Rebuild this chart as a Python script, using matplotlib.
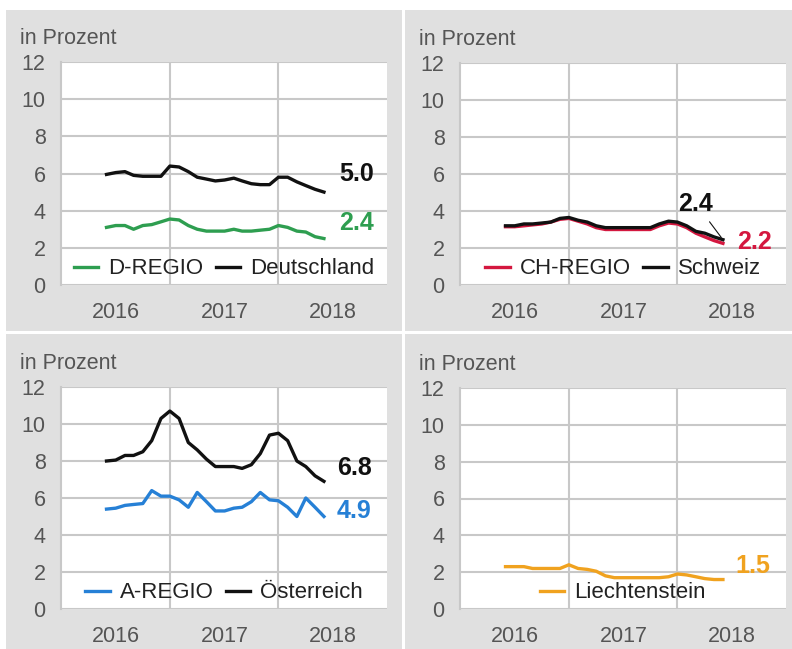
import numpy as np
import pandas as pd
import matplotlib
matplotlib.use("Agg")
import matplotlib.pyplot as plt
import matplotlib.dates as mdates
from matplotlib.patches import Rectangle

plt.rcParams['font.family'] = ['Liberation Sans', 'DejaVu Sans']

# monthly values, Dec 2015 .. Dec 2017 (in Prozent)
months = pd.date_range("2015-12-01", periods=25, freq="MS")
years = [2016, 2017, 2018]

d_regio = [3.1, 3.2, 3.2, 3.0, 3.2, 3.25, 3.4, 3.55, 3.5, 3.2, 3.0, 2.9, 2.9,
           2.9, 3.0, 2.9, 2.9, 2.95, 3.0, 3.2, 3.1, 2.9, 2.85, 2.6, 2.5]
deutschland = [5.95, 6.05, 6.1, 5.9, 5.85, 5.85, 5.85, 6.4, 6.35, 6.1, 5.8, 5.7, 5.6,
               5.65, 5.75, 5.6, 5.45, 5.4, 5.4, 5.8, 5.8, 5.55, 5.35, 5.15, 5.0]

ch_regio = [3.15, 3.15, 3.2, 3.25, 3.3, 3.4, 3.55, 3.6, 3.45, 3.3, 3.1, 3.0, 3.0,
            3.0, 3.0, 3.0, 3.0, 3.2, 3.35, 3.3, 3.1, 2.8, 2.6, 2.4, 2.25]
schweiz = [3.2, 3.2, 3.3, 3.3, 3.35, 3.4, 3.6, 3.65, 3.5, 3.4, 3.2, 3.1, 3.1,
           3.1, 3.1, 3.1, 3.1, 3.3, 3.45, 3.4, 3.2, 2.9, 2.8, 2.6, 2.45]

a_regio = [5.4, 5.45, 5.6, 5.65, 5.7, 6.4, 6.1, 6.1, 5.9, 5.5, 6.3, 5.8, 5.3,
           5.3, 5.45, 5.5, 5.8, 6.3, 5.9, 5.85, 5.5, 5.0, 6.0, 5.5, 5.0]
oesterreich = [8.0, 8.05, 8.3, 8.3, 8.5, 9.1, 10.3, 10.7, 10.3, 9.0, 8.6, 8.1, 7.7,
               7.7, 7.7, 7.6, 7.8, 8.4, 9.4, 9.5, 9.1, 8.0, 7.7, 7.2, 6.9]

liechtenstein = [2.3, 2.3, 2.3, 2.2, 2.2, 2.2, 2.2, 2.4, 2.2, 2.15, 2.05, 1.8, 1.7,
                 1.7, 1.7, 1.7, 1.7, 1.7, 1.75, 1.9, 1.85, 1.75, 1.65, 1.6, 1.6]

GREEN = "#2e9e50"
RED = "#d4173f"
BLUE = "#2680d6"
ORANGE = "#f0a21f"
BLACK = "#111111"
GRAY_BG = "#e0e0e0"
GRID = "#c8c8c8"
TXT = "#555555"

W, H = 792, 649
fig = plt.figure(figsize=(W / 100, H / 100), dpi=100)
fig.patch.set_facecolor("white")

# gray panel boxes (pixels: x0, y0_top, x1, y1_bottom)
boxes = [(6, 10, 402, 331), (405, 10, 792, 331), (6, 334, 402, 649), (405, 334, 792, 649)]
for x0, y0, x1, y1 in boxes:
    fig.add_artist(Rectangle((x0 / W, 1 - y1 / H), (x1 - x0) / W, (y1 - y0) / H,
                             transform=fig.transFigure, facecolor=GRAY_BG, edgecolor="none", zorder=0))

# plot areas in pixels (left, top, right, bottom)
areas = [(61, 62, 387, 285), (460, 63, 786, 285), (61, 387, 387, 609), (460, 388, 786, 609)]

x = mdates.date2num(months)


def make_ax(area):
    l, t, r, b = area
    ax = fig.add_axes([l / W, 1 - b / H, (r - l) / W, (b - t) / H])
    ax.set_facecolor("white")
    ax.set_ylim(0, 12)
    ax.set_yticks(range(0, 13, 2))
    ax.set_xlim(mdates.date2num(pd.Timestamp("2015-07-01")), mdates.date2num(pd.Timestamp("2018-07-01")))
    ax.set_xticks(mdates.date2num([pd.Timestamp(f"{y}-01-01") for y in years]))
    ax.set_xticklabels([str(y) for y in years])
    ax.set_xticks(mdates.date2num([pd.Timestamp("2016-07-01"), pd.Timestamp("2017-07-01")]), minor=True)
    ax.grid(True, axis="y", color=GRID, lw=1.5)
    ax.grid(True, axis="x", which="minor", color=GRID, lw=1.5)
    ax.grid(False, axis="x", which="major")
    ax.set_axisbelow(True)
    for s in ["top", "right", "bottom"]:
        ax.spines[s].set_visible(False)
    ax.spines["left"].set_color(GRID)
    ax.spines["left"].set_linewidth(1.5)
    ax.tick_params(axis="both", which="both", length=0, labelsize=15.5, labelcolor=TXT)
    ax.tick_params(axis="y", pad=11)
    ax.tick_params(axis="x", pad=12)
    ax.annotate("in Prozent", xy=(0, 1), xycoords="axes fraction", xytext=(-41, 18),
                textcoords="offset pixels", fontsize=15.5, color=TXT, va="baseline", ha="left")
    return ax


def end_label(ax, xv, yv, txt, color, dx, dy):
    ax.annotate(txt, xy=(xv, yv), xytext=(dx, dy), textcoords="offset pixels",
                fontsize=18, fontweight="bold", color=color, ha="left", va="center")


def legend(ax):
    ax.legend(loc="lower center", ncol=2, frameon=False, fontsize=16, handlelength=1.1,
              handletextpad=0.45, columnspacing=0.55, borderaxespad=0.0, borderpad=0.25,
              labelcolor="#222222")


# Deutschland
ax1 = make_ax(areas[0])
ax1.plot(x, d_regio, color=GREEN, lw=2.4, label="D-REGIO")
ax1.plot(x, deutschland, color=BLACK, lw=2.4, label="Deutschland")
end_label(ax1, x[-1], deutschland[-1], "5.0", BLACK, 15, 18)
end_label(ax1, x[-1], d_regio[-1], "2.4", GREEN, 15, 16)
legend(ax1)

# Schweiz
ax2 = make_ax(areas[1])
ax2.plot(x, ch_regio, color=RED, lw=2.4, label="CH-REGIO")
ax2.plot(x, schweiz, color=BLACK, lw=2.4, label="Schweiz")
ax2.annotate("2.4", xy=(x[-1], schweiz[-1]), xytext=(-27, 36), textcoords="offset pixels",
             fontsize=18, fontweight="bold", color=BLACK, ha="center", va="center",
             arrowprops=dict(arrowstyle="-", color=BLACK, lw=0.8, shrinkA=3, shrinkB=2))
end_label(ax2, x[-1], ch_regio[-1], "2.2", RED, 14, 1)
legend(ax2)

# Oesterreich
ax3 = make_ax(areas[2])
ax3.plot(x, a_regio, color=BLUE, lw=2.4, label="A-REGIO")
ax3.plot(x, oesterreich, color=BLACK, lw=2.4, label="Österreich")
end_label(ax3, x[-1], oesterreich[-1], "6.8", BLACK, 13, 13)
end_label(ax3, x[-1], a_regio[-1], "4.9", BLUE, 13, 6)
legend(ax3)

# Liechtenstein
ax4 = make_ax(areas[3])
ax4.plot(x, liechtenstein, color=ORANGE, lw=2.4, label="Liechtenstein")
end_label(ax4, x[-1], liechtenstein[-1], "1.5", ORANGE, 12, 14)
legend(ax4)

fig.savefig("out.png", dpi=100, facecolor=fig.get_facecolor())
